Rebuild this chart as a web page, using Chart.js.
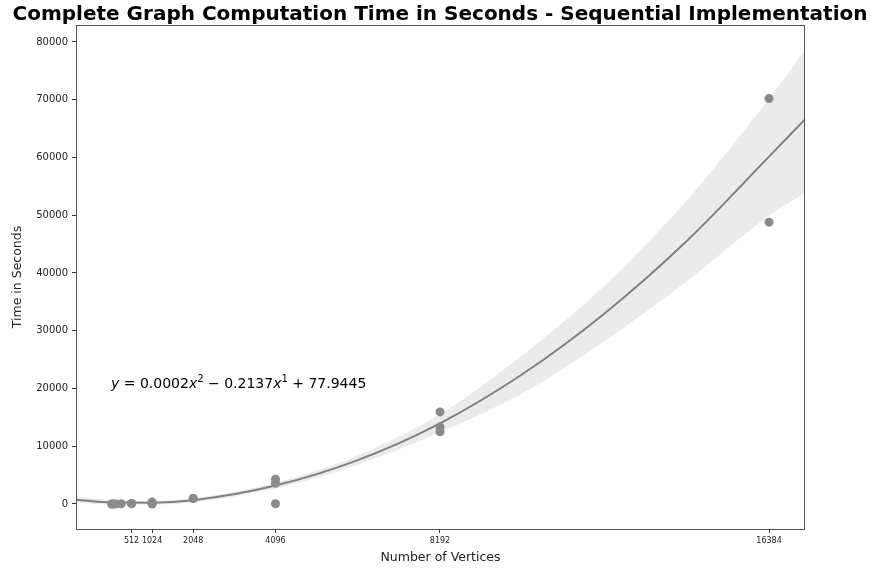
<!DOCTYPE html>
<html>
<head>
<meta charset="utf-8">
<script src="https://cdn.jsdelivr.net/npm/chart.js@4"></script>
<style>
  html, body { margin: 0; padding: 0; background: #fff; }
  #wrap { width: 871px; height: 571px; position: relative; }
</style>
</head>
<body>
<div id="wrap"><canvas id="chart" width="871" height="571"></canvas></div>
<script>
// measured runs (vertices, seconds)
var runVertices = [16, 32, 64, 128, 256, 512, 512, 1024, 1024, 1024, 2048, 2048, 4096, 4096, 4096, 8192, 8192, 8192, 16384, 16384];
var runSeconds  = [5, 5, 10, 15, 30, 100, 60, 350, 150, 0, 990, 920, 4300, 3600, 50, 15950, 13350, 12500, 70200, 48800];

// fitted curve + confidence band
var fitX     = [-871, 0, 1024, 2048, 4096, 6144, 8192, 10240, 12288, 14336, 16384, 17280];
var fitY     = [750, 290, 230, 660, 3200, 7600, 13970, 22470, 33000, 45550, 60150, 66600];
var bandUp   = [1300, 690, 550, 1010, 3700, 8400, 15520, 25770, 37800, 52550, 70150, 78600];
var bandLow  = [200, -110, -90, 310, 2700, 6800, 12420, 19170, 28200, 38550, 49900, 53900];

var vertexTicks = [512, 1024, 2048, 4096, 8192, 16384];
var timeTicks = [0, 10000, 20000, 30000, 40000, 50000, 60000, 70000, 80000];

var titleText = "Complete Graph Computation Time in Seconds - Sequential Implementation";

function pts(xs, ys) {
  var out = [];
  for (var i = 0; i < xs.length; i++) out.push({x: xs[i], y: ys[i]});
  return out;
}

var frame = {
  id: 'frame',
  afterDraw: function(chart) {
    var c = chart.ctx, a = chart.chartArea;
    c.save();
    c.strokeStyle = '#555';
    c.lineWidth = 1;
    c.strokeRect(a.left + 0.5, a.top + 0.5, a.right - a.left - 1, a.bottom - a.top);
    // title
    c.fillStyle = '#000';
    c.font = 'bold 20px "DejaVu Sans"';
    c.textAlign = 'center';
    c.textBaseline = 'alphabetic';
    c.fillText(titleText, 440, 20);
    // equation
    var x = chart.scales.x.getPixelForValue(0);
    var y = chart.scales.y.getPixelForValue(20000);
    c.textAlign = 'left';
    var parts = [
      ['italic 14px "DejaVu Sans"', 'y', 0],
      ['14px "DejaVu Sans"', ' = 0.0002', 0],
      ['italic 14px "DejaVu Sans"', 'x', 0],
      ['10px "DejaVu Sans"', '2', -6],
      ['14px "DejaVu Sans"', ' \u2212 0.2137', 0],
      ['italic 14px "DejaVu Sans"', 'x', 0],
      ['10px "DejaVu Sans"', '1', -6],
      ['14px "DejaVu Sans"', ' + 77.9445', 0]
    ];
    for (var i = 0; i < parts.length; i++) {
      c.font = parts[i][0];
      c.fillText(parts[i][1], x, y + parts[i][2]);
      x += c.measureText(parts[i][1]).width;
    }
    c.restore();
  }
};

var ctx = document.getElementById('chart');
var chart = new Chart(ctx, {
  data: {
    datasets: [
      {
        type: 'line', label: 'low', data: pts(fitX, bandLow),
        borderWidth: 0, pointRadius: 0, fill: false, cubicInterpolationMode: 'monotone', order: 5
      },
      {
        type: 'line', label: 'up', data: pts(fitX, bandUp),
        borderWidth: 0, pointRadius: 0, fill: '-1', backgroundColor: '#ebebeb',
        cubicInterpolationMode: 'monotone', order: 4
      },
      {
        type: 'line', label: 'fit', data: pts(fitX, fitY),
        borderColor: '#808080', borderWidth: 2, pointRadius: 0, fill: false,
        cubicInterpolationMode: 'monotone', order: 3
      },
      {
        type: 'scatter', label: 'runs', data: pts(runVertices, runSeconds),
        backgroundColor: '#8a8a8a', borderWidth: 0, pointRadius: 4.5, order: 1
      }
    ]
  },
  options: {
    responsive: false,
    animation: false,
    layout: { padding: { top: 25, right: 66, left: 0, bottom: 0 } },
    plugins: { legend: { display: false }, tooltip: { enabled: false } },
    scales: {
      x: {
        type: 'linear', min: -871, max: 17280,
        afterBuildTicks: function(s) { s.ticks = vertexTicks.map(function(v) { return {value: v}; }); },
        afterFit: function(s) { s.height = 42; },
        grid: { drawOnChartArea: false, drawTicks: true, tickLength: 4, color: '#333' },
        border: { display: false },
        ticks: { color: '#222', font: { family: 'DejaVu Sans', size: 8 }, padding: 3, maxRotation: 0, autoSkip: false,
                 callback: function(v) { return String(v); } },
        title: { display: true, text: 'Number of Vertices', color: '#222', font: { family: 'DejaVu Sans', size: 12.5 }, padding: { top: 0, bottom: 6 } }
      },
      y: {
        type: 'linear', min: -4330, max: 82940,
        afterBuildTicks: function(s) { s.ticks = timeTicks.map(function(v) { return {value: v}; }); },
        afterFit: function(s) { s.width = 76; },
        grid: { drawOnChartArea: false, drawTicks: true, tickLength: 4, color: '#333' },
        border: { display: false },
        ticks: { color: '#222', font: { family: 'DejaVu Sans', size: 10 }, padding: 4,
                 callback: function(v) { return String(v); } },
        title: { display: true, text: 'Time in Seconds', color: '#222', font: { family: 'DejaVu Sans', size: 12.5 }, padding: { top: 10, bottom: 0 } }
      }
    }
  },
  plugins: [frame]
});
</script>
</body>
</html>
